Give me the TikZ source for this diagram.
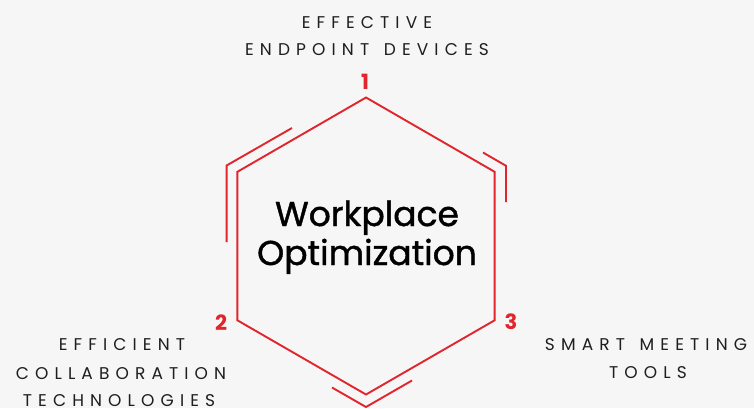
\documentclass[tikz,border=0pt]{standalone}
\usepackage{fontspec}
\setmainfont{Poppins}
\newfontfamily\labelfont[LetterSpace=36]{Poppins}
\newfontfamily\titlefont[FakeBold=1.2]{Poppins}
\definecolor{hexred}{HTML}{E1252C}
\definecolor{bgcol}{HTML}{F6F6F6}
\definecolor{labelcol}{HTML}{1E1E1E}
\newcommand{\wsp}{\hspace{4pt}}
\tikzset{
  hexline/.style={draw=hexred, line width=1.9pt, line join=miter},
  numlabel/.style={text=hexred, font=\fontsize{21}{21}\selectfont\bfseries, inner sep=0pt},
  toplabel/.style={text=labelcol, font=\labelfont\fontsize{17}{28}\selectfont, align=center, inner sep=0pt},
  titletext/.style={text=black, font=\titlefont\fontsize{34.5}{39}\selectfont, align=center, inner sep=0pt}
}
\begin{document}
\begin{tikzpicture}[x=1pt,y=-1pt]
\useasboundingbox (0,0) rectangle (754,408);
\fill[bgcol] (0,0) rectangle (754,408);
% hexagon vertices
\coordinate (T) at (366,97.5);
\coordinate (UR) at (494.6,171.8);
\coordinate (LR) at (494.6,320.3);
\coordinate (B) at (366,394.5);
\coordinate (LL) at (237.4,320.3);
\coordinate (UL) at (237.4,171.8);
\draw[hexline] (T) -- (UR) -- (LR) -- (B) -- (LL) -- (UL) -- cycle;
% outer accents
\coordinate (a1) at (292,128);
\coordinate (a2) at (226.6,165.5);
\coordinate (a3) at (226.6,242);
\draw[hexline] (a1) -- (a2) -- (a3);
\coordinate (b1) at (483,152.5);
\coordinate (b2) at (506,165.8);
\coordinate (b3) at (506,202);
\draw[hexline] (b1) -- (b2) -- (b3);
\coordinate (c1) at (332,387.5);
\coordinate (c2) at (366,407);
\coordinate (c3) at (412,380.5);
\draw[hexline] (c1) -- (c2) -- (c3);
% title
\node[titletext, anchor=base] (title) at (367,226) {Workplace};
\node[titletext, anchor=base] (title2) at (367,265) {Optimization};
% numbers
\node[numlabel] (n1) at (365,82) {1};
\node[numlabel] (n2) at (221,323) {2};
\node[numlabel] (n3) at (511,322) {3};
% labels
\node[toplabel, anchor=base] (l1a) at (367,28) {EFFECTIVE};
\node[toplabel, anchor=base] (l1b) at (367,55) {ENDPOINT \wsp DEVICES};
\node[toplabel, anchor=base] (l2a) at (122,350) {EFFICIENT};
\node[toplabel, anchor=base] (l2b) at (121,379) {COLLABORATION};
\node[toplabel, anchor=base] (l2c) at (119,406) {TECHNOLOGIES};
\node[toplabel, anchor=base] (l3a) at (646,350) {SMART \wsp MEETING};
\node[toplabel, anchor=base] (l3b) at (648,378) {TOOLS};
\end{tikzpicture}
\end{document}
